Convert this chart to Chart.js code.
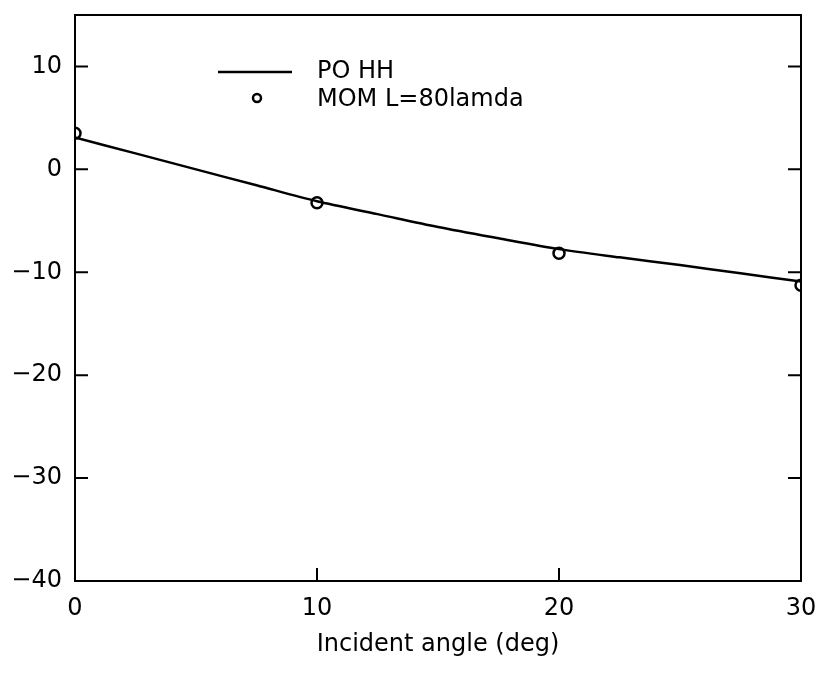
<!DOCTYPE html>
<html>
<head>
<meta charset="utf-8">
<script src="https://cdn.jsdelivr.net/npm/chart.js@4/dist/chart.umd.min.js"></script>
<style>
  html, body { margin: 0; padding: 0; background: #fff; }
  #wrap { width: 822px; height: 675px; }
</style>
</head>
<body>
<div id="wrap"><canvas id="rcs"></canvas></div>
<script>
// PO HH curve (solid line)
var poAngles = [0, 2.5, 5, 7.5, 10, 12.5, 15, 17.5, 20, 22.5, 25, 27.5, 30];
var poValues = [3.1, 1.55, 0.0, -1.55, -3.1, -4.35, -5.6, -6.7, -7.75, -8.55, -9.3, -10.1, -10.9];
// MOM L=80lamda (circles)
var momAngles = [0, 10, 20, 30];
var momValues = [3.5, -3.25, -8.15, -11.25];

var xTicks = [0, 10, 20, 30];
var yTicks = [-40, -30, -20, -10, 0, 10];

var FONT = "'DejaVu Sans', sans-serif";

function toXY(xs, ys) {
    var out = [];
    for (var i = 0; i < xs.length; i++) out.push({ x: xs[i], y: ys[i] });
    return out;
}

// frame + inward tick marks + legend inside the plot
var framePlugin = {
    id: 'frame',
    afterDraw: function(chart) {
        var ctx = chart.ctx, a = chart.chartArea;
        var xs = chart.scales.x, ys = chart.scales.y;
        ctx.save();
        ctx.strokeStyle = '#000';
        ctx.lineWidth = 2;
        ctx.strokeRect(a.left, a.top, a.right - a.left, a.bottom - a.top);
        var len = 13;
        ctx.beginPath();
        xTicks.forEach(function(v) {
            var px = xs.getPixelForValue(v);
            ctx.moveTo(px, a.bottom); ctx.lineTo(px, a.bottom - len);
        });
        yTicks.forEach(function(v) {
            var py = ys.getPixelForValue(v);
            ctx.moveTo(a.left, py); ctx.lineTo(a.left + len, py);
            ctx.moveTo(a.right, py); ctx.lineTo(a.right - len, py);
        });
        ctx.stroke();

        // legend
        var ds = chart.data.datasets;
        var lx = 218, ly = 72;
        ctx.lineWidth = 2.5;
        ctx.beginPath();
        ctx.moveTo(lx, ly); ctx.lineTo(lx + 74, ly);
        ctx.stroke();
        ctx.lineWidth = 2.5;
        ctx.beginPath();
        ctx.arc(lx + 39, ly + 26, 4, 0, Math.PI * 2);
        ctx.stroke();
        ctx.fillStyle = '#000';
        ctx.font = '24px ' + FONT;
        ctx.textBaseline = 'middle';
        ctx.fillText(ds[0].label, lx + 99, ly);
        ctx.fillText(ds[1].label, lx + 99, ly + 28);
        ctx.restore();
    }
};

new Chart(document.getElementById('rcs'), {
    type: 'scatter',
    plugins: [framePlugin],
    data: {
        datasets: [
            {
                label: 'PO HH',
                data: toXY(poAngles, poValues),
                showLine: true,
                borderColor: '#000',
                borderWidth: 2.5,
                pointRadius: 0,
                tension: 0.3
            },
            {
                label: 'MOM L=80lamda',
                data: toXY(momAngles, momValues),
                showLine: false,
                pointRadius: 5.5,
                pointBorderWidth: 2.5,
                pointBorderColor: '#000',
                pointBackgroundColor: 'rgba(0,0,0,0)'
            }
        ]
    },
    options: {
        responsive: true,
        maintainAspectRatio: false,
        animation: false,
        layout: { padding: { top: 15, right: 21, left: 0, bottom: 0 } },
        plugins: {
            legend: { display: false },
            tooltip: { enabled: false }
        },
        scales: {
            x: {
                type: 'linear',
                min: 0, max: 30,
                afterBuildTicks: function(s) { s.ticks = xTicks.map(function(v) { return { value: v }; }); },
                afterFit: function(s) { s.height = 94; s.paddingLeft = 0; s.paddingRight = 0; },
                grid: { display: false, drawTicks: false },
                border: { display: false },
                ticks: { color: '#000', font: { family: FONT, size: 24 }, padding: 13, maxRotation: 0 },
                title: {
                    display: true,
                    text: 'Incident angle (deg)',
                    color: '#000',
                    font: { family: FONT, size: 24 },
                    padding: { top: 0, bottom: 16 }
                }
            },
            y: {
                type: 'linear',
                min: -40, max: 15,
                afterBuildTicks: function(s) { s.ticks = yTicks.map(function(v) { return { value: v }; }); },
                afterFit: function(s) { s.width = 75; s.paddingTop = 0; s.paddingBottom = 0; },
                grid: { display: false, drawTicks: false },
                border: { display: false },
                ticks: {
                    color: '#000', font: { family: FONT, size: 24 }, padding: 13,
                    callback: function(v) { return String(v).replace('-', '\u2212'); }
                }
            }
        }
    }
});
</script>
</body>
</html>
